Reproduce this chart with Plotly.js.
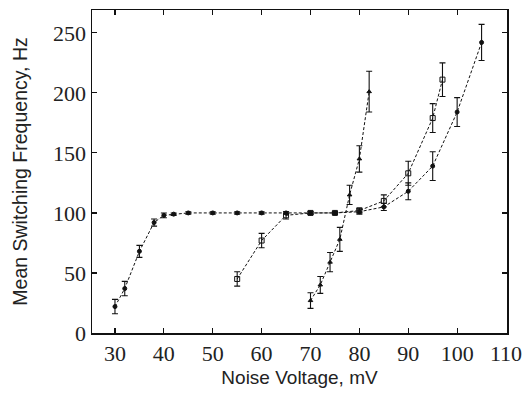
<!DOCTYPE html>
<html>
<head>
<meta charset="utf-8">
<script src="https://cdn.plot.ly/plotly-3.0.1.min.js"></script>
<style>html,body{margin:0;padding:0;background:#fff;}#chart{width:523px;height:400px;}</style>
</head>
<body>
<div id="chart"></div>
<script>
// Series A: filled circles
var xA = [30, 32, 35, 38, 40, 42, 45, 50, 55, 60, 65, 70, 75, 80, 85, 90, 95, 100, 105];
var yA = [22, 37, 68, 92, 98, 99, 100, 100, 100, 100, 100, 100, 100, 101, 105, 118, 139, 184, 242];
var eA = [6, 6, 5, 3, 2, 1, 1, 1, 1, 1, 1, 1, 1, 2, 3, 7, 12, 12, 15];
// Series B: open squares
var xB = [55, 60, 65, 70, 75, 80, 85, 90, 95, 97];
var yB = [45, 77, 98, 100, 100, 102, 110, 133, 179, 211];
var eB = [6, 6, 3, 1, 1, 2, 5, 10, 12, 14];
// Series C: triangles
var xC = [70, 72, 74, 76, 78, 80, 82];
var yC = [27, 40, 59, 78, 115, 145, 201];
var eC = [6.5, 7, 8, 10, 8, 11, 17];

var xTicks = [30, 40, 50, 60, 70, 80, 90, 100, 110];
var yTicks = [0, 50, 100, 150, 200, 250];

function tr(x, y, e, sym, sz) {
  return {
    x: x, y: y, type: 'scatter', mode: 'lines+markers',
    line: {color: '#111', width: 1, dash: '3px,2px'},
    marker: {symbol: sym, size: sz, color: '#111', line: {color: '#111', width: 1}},
    error_y: {type: 'data', array: e, visible: true, color: '#111', thickness: 1.1, width: 3},
    showlegend: false, cliponaxis: false
  };
}

var data = [tr(xA, yA, eA, 'circle', 4), tr(xB, yB, eB, 'square-open', 5), tr(xC, yC, eC, 'triangle-up', 4)];

var layout = {
  width: 523, height: 400,
  margin: {l: 92, r: 16, t: 10, b: 67},
  paper_bgcolor: '#fff', plot_bgcolor: '#fff',
  xaxis: {
    range: [25.3, 110.2], tickvals: xTicks, ticktext: xTicks.map(String),
    ticks: 'inside', ticklen: 5, tickwidth: 1.2, tickcolor: '#111',
    showline: true, linecolor: '#111', linewidth: 1.5, mirror: 'ticks',
    showgrid: false, zeroline: false,
    tickfont: {family: 'Liberation Serif, Times New Roman, serif', size: 22, color: '#222'},
    title: {text: 'Noise Voltage, mV', font: {family: 'Liberation Sans, Arial, sans-serif', size: 19, color: '#222'}, standoff: 6}
  },
  yaxis: {
    range: [0, 269], tickvals: yTicks, ticktext: yTicks.map(String),
    ticks: 'inside', ticklen: 5, tickwidth: 1.2, tickcolor: '#111',
    showline: true, linecolor: '#111', linewidth: 1.5, mirror: 'ticks',
    showgrid: false, zeroline: false,
    tickfont: {family: 'Liberation Serif, Times New Roman, serif', size: 22, color: '#222'},
    title: {text: 'Mean Switching Frequency, Hz', font: {family: 'Liberation Sans, Arial, sans-serif', size: 19.5, color: '#222'}, standoff: 20}
  }
};

Plotly.newPlot('chart', data, layout, {displayModeBar: false, staticPlot: true});
</script>
</body>
</html>
